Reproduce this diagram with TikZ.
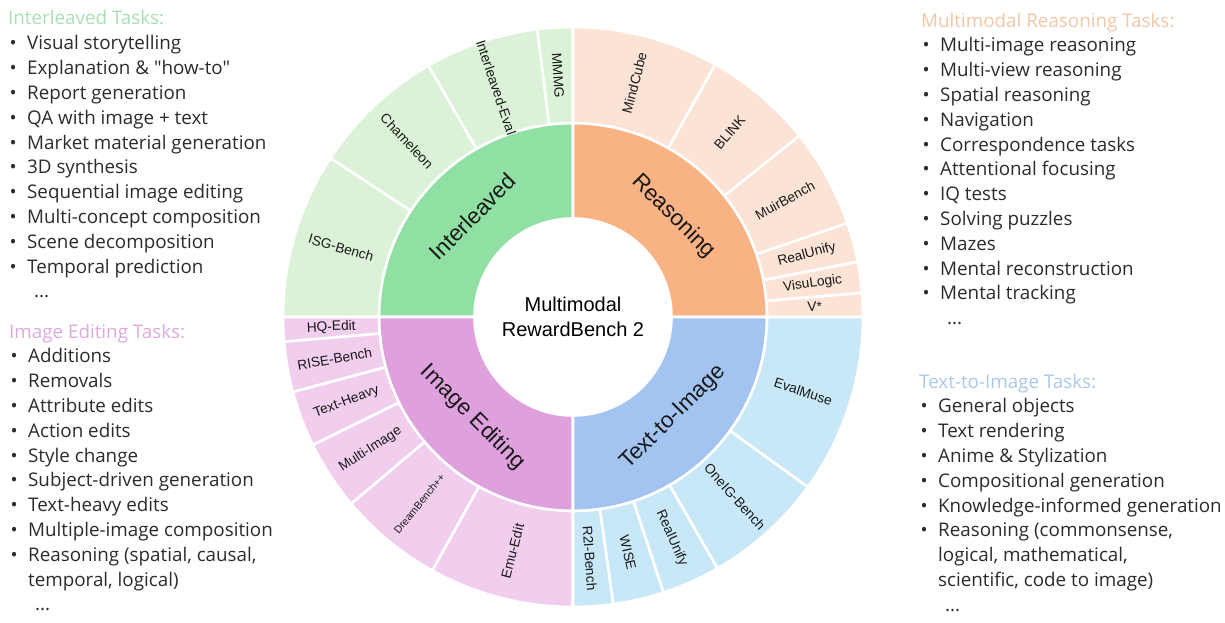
\documentclass[tikz,border=0pt]{standalone}
\usepackage{fontspec}
\setmainfont{Liberation Sans}
\newfontfamily\listfont{Open Sans}
\usetikzlibrary{positioning}

\definecolor{intdark}{HTML}{8FE0A2}
\definecolor{intlight}{HTML}{DCF2D8}
\definecolor{readark}{HTML}{F9B284}
\definecolor{realight}{HTML}{FBE3D6}
\definecolor{editdark}{HTML}{DFA1DD}
\definecolor{editlight}{HTML}{F1CEEE}
\definecolor{ttidark}{HTML}{A3C4F0}
\definecolor{ttilight}{HTML}{C8E8F8}
\definecolor{inthead}{HTML}{A8DEB3}
\definecolor{reahead}{HTML}{F2C6A6}
\definecolor{edithead}{HTML}{DCAADB}
\definecolor{ttihead}{HTML}{AAC8E8}
\definecolor{listtext}{HTML}{2B2B2B}

\tikzset{
  wedge/.style={draw=white, line width=2.6pt, line join=round},
  outlbl/.style={font=\fontsize{13.7}{15}\selectfont, text=black!90, inner sep=0pt},
  inlbl/.style={font=\fontsize{22.5}{24}\selectfont, text=black!90, inner sep=0pt},
  tasklist/.style={font=\listfont\fontsize{18.8}{24.8}\selectfont, text=listtext,
        align=left, anchor=north west, inner sep=0pt}
}

% one piece of a ring: start angle, end angle, inner radius, outer radius, colour
\newcommand{\ringpart}[5]{\filldraw[wedge, fill=#5] (#1:#3) arc[start angle=#1, end angle=#2, radius=#3]
    -- (#2:#4) arc[start angle=#2, end angle=#1, radius=#4] -- cycle;}
\newcommand{\task}[1]{\makebox[19pt][l]{\hspace{1.5pt}\textbullet}#1}
\newcommand{\cont}[1]{\hspace*{19pt}#1}
\newcommand{\more}{\hspace*{26pt}...}

\begin{document}
\begin{tikzpicture}[x=1pt, y=1pt]
    \useasboundingbox (-573,-306) rectangle (652,317);

    % inner ring
    \ringpart{90}{180}{98.5}{194}{intdark}
    \ringpart{0}{90}{98.5}{194}{readark}
    \ringpart{180}{270}{98.5}{194}{editdark}
    \ringpart{270}{360}{98.5}{194}{ttidark}

    \node (intlbl) [inlbl, rotate=45] at (135:142) {Interleaved};
    \node (realbl) [inlbl, rotate=-45] at (45:142) {Reasoning};
    \node (editlbl) [inlbl, rotate=-45] at (225:142) {Image Editing};
    \node (ttilbl) [inlbl, rotate=45] at (315:142) {Text-to-Image};

    \node (centre) [align=center, font=\fontsize{20}{25}\selectfont] at (0,0)
        {Multimodal\\RewardBench 2};

    % outer ring, left half
    \foreach \a/\b/\lbl [count=\i] in {90/97.1/MMMG, 97.1/119.9/Interleaved-Eval,
            119.9/146.8/Chameleon, 146.8/180/ISG-Bench}{
        \ringpart{\a}{\b}{194}{290}{intlight}
        \node (int\i) [outlbl, rotate={(\a+\b)/2-180}] at ({(\a+\b)/2}:242) {\lbl};
    }
    \foreach \a/\b/\lbl [count=\i] in {180/184.9/HQ-Edit, 184.9/195/RISE-Bench,
            195/206.2/Text-Heavy, 206.2/220.1/Multi-Image,
            220.1/241/{\fontsize{10.5}{12}\selectfont DreamBench++}, 241/270/Emu-Edit}{
        \ringpart{\a}{\b}{194}{290}{editlight}
        \node (edit\i) [outlbl, rotate={(\a+\b)/2-180}] at ({(\a+\b)/2}:242) {\lbl};
    }

    % outer ring, right half
    \foreach \a/\b/\lbl [count=\i] in {0/4.8/V*, 4.8/11/VisuLogic, 11/18.9/RealUnify,
            18.9/38.7/MuirBench, 38.7/60.6/BLINK, 60.6/90/MindCube}{
        \ringpart{\a}{\b}{194}{290}{realight}
        \node (rea\i) [outlbl, rotate={(\a+\b)/2}] at ({(\a+\b)/2}:242) {\lbl};
    }
    \foreach \a/\b/\lbl [count=\i] in {270/278/R2I-Bench, 278/288.2/WISE,
            288.2/299.9/RealUnify, 299.9/324.1/OneIG-Bench, 324.1/360/EvalMuse}{
        \ringpart{\a}{\b}{194}{290}{ttilight}
        \node (tti\i) [outlbl, rotate={(\a+\b)/2}] at ({(\a+\b)/2}:242) {\lbl};
    }

    % task lists
    \node (intlist) [tasklist] at (-565,310.4) {
        \textcolor{inthead}{\strut Interleaved Tasks:}\\[1pt]
        \task{Visual storytelling}\\
        \task{Explanation \& "how-to"}\\
        \task{Report generation}\\
        \task{QA with image + text}\\
        \task{Market material generation}\\
        \task{3D synthesis}\\
        \task{Sequential image editing}\\
        \task{Multi-concept composition}\\
        \task{Scene decomposition}\\
        \task{Temporal prediction}\\
        \more
    };

    \node (editlist) [tasklist] at (-564,-3.6) {
        \textcolor{edithead}{\strut Image Editing Tasks:}\\
        \task{Additions}\\
        \task{Removals}\\
        \task{Attribute edits}\\
        \task{Action edits}\\
        \task{Style change}\\
        \task{Subject-driven generation}\\
        \task{Text-heavy edits}\\
        \task{Multiple-image composition}\\
        \task{Reasoning (spatial, causal,}\\
        \cont{temporal, logical)}\\
        \more
    };

    \node (realist) [tasklist] at (348,307.4) {
        \textcolor{reahead}{\strut Multimodal Reasoning Tasks:}\\
        \task{Multi-image reasoning}\\
        \task{Multi-view reasoning}\\
        \task{Spatial reasoning}\\
        \task{Navigation}\\
        \task{Correspondence tasks}\\
        \task{Attentional focusing}\\
        \task{IQ tests}\\
        \task{Solving puzzles}\\
        \task{Mazes}\\
        \task{Mental reconstruction}\\
        \task{Mental tracking}\\
        \more
    };

    \node (ttilist) [tasklist] at (346,-53.6) {
        \textcolor{ttihead}{\strut Text-to-Image Tasks:}\\
        \task{General objects}\\
        \task{Text rendering}\\
        \task{Anime \& Stylization}\\
        \task{Compositional generation}\\
        \task{Knowledge-informed generation}\\
        \task{Reasoning (commonsense,}\\
        \cont{logical, mathematical,}\\
        \cont{scientific, code to image)}\\
        \more
    };
\end{tikzpicture}
\end{document}
